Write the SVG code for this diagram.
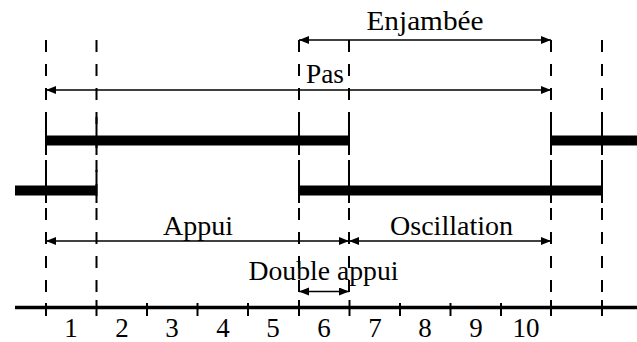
<svg xmlns="http://www.w3.org/2000/svg" width="637" height="342" viewBox="0 0 637 342">
  <style>
    .lbl { font-family: "Liberation Serif", "Times New Roman", serif; font-size: 27px; fill: #000; text-anchor: middle; }
    .dash { stroke: #000; stroke-width: 2; stroke-dasharray: 12 12; fill: none; }
    .solid { stroke: #000; stroke-width: 2; fill: none; }
    .bar { fill: #000; }
    .arrow { stroke: #000; stroke-width: 1.5; fill: none; marker-start: url(#head); marker-end: url(#head); }
  </style>
  <defs>
    <marker id="head" markerUnits="userSpaceOnUse" markerWidth="11" markerHeight="9" refX="10" refY="4" orient="auto-start-reverse">
      <path d="M0,0 L10,4 L0,8 Z" fill="#000"/>
    </marker>
  </defs>
  <rect width="637" height="342" fill="#fff"/>

  <!-- vertical phase boundaries -->
  <g id="guides">
    <g id="guide-46">
      <line class="dash" x1="46" y1="40" x2="46" y2="300"/>
      <line class="solid" x1="46" y1="117" x2="46" y2="155"/>
      <line class="solid" x1="46" y1="170" x2="46" y2="203"/>
    </g>
    <g id="guide-96">
      <line class="dash" x1="96.5" y1="40" x2="96.5" y2="300"/>
      <line class="solid" x1="96.5" y1="117" x2="96.5" y2="155"/>
      <line class="solid" x1="96.5" y1="170" x2="96.5" y2="203"/>
    </g>
    <g id="guide-299">
      <line class="dash" x1="299" y1="40" x2="299" y2="300"/>
      <line class="solid" x1="299" y1="117" x2="299" y2="155"/>
      <line class="solid" x1="299" y1="170" x2="299" y2="203"/>
    </g>
    <g id="guide-349">
      <line class="dash" x1="349" y1="40" x2="349" y2="300"/>
      <line class="solid" x1="349" y1="117" x2="349" y2="155"/>
      <line class="solid" x1="349" y1="170" x2="349" y2="203"/>
    </g>
    <g id="guide-551">
      <line class="dash" x1="551" y1="40" x2="551" y2="300"/>
      <line class="solid" x1="551" y1="117" x2="551" y2="155"/>
      <line class="solid" x1="551" y1="170" x2="551" y2="203"/>
    </g>
    <g id="guide-602">
      <line class="dash" x1="602" y1="40" x2="602" y2="300"/>
      <line class="solid" x1="602" y1="117" x2="602" y2="155"/>
      <line class="solid" x1="602" y1="170" x2="602" y2="203"/>
    </g>
  </g>

  <!-- foot contact bars -->
  <g id="bars">
    <rect id="bar-top-1" class="bar" x="46" y="135.5" width="303" height="10"/>
    <rect id="bar-top-2" class="bar" x="551" y="135.5" width="86" height="10"/>
    <rect id="bar-bottom-1" class="bar" x="15" y="185.5" width="81.5" height="10"/>
    <rect id="bar-bottom-2" class="bar" x="299" y="185.5" width="303" height="10"/>
  </g>

  <!-- time axis -->
  <g id="axis">
    <line x1="15" y1="307.5" x2="637" y2="307.5" stroke="#000" stroke-width="3.5"/>
    <g class="solid">
      <line x1="46" y1="303" x2="46" y2="316"/>
      <line x1="96.5" y1="300" x2="96.5" y2="316"/>
      <line x1="147" y1="303" x2="147" y2="316"/>
      <line x1="197.5" y1="303" x2="197.5" y2="316"/>
      <line x1="248" y1="303" x2="248" y2="316"/>
      <line x1="299" y1="300" x2="299" y2="316"/>
      <line x1="349.5" y1="300" x2="349.5" y2="316"/>
      <line x1="400" y1="303" x2="400" y2="316"/>
      <line x1="450.5" y1="303" x2="450.5" y2="316"/>
      <line x1="501" y1="303" x2="501" y2="316"/>
      <line x1="551" y1="300" x2="551" y2="316"/>
      <line x1="602" y1="300" x2="602" y2="316"/>
    </g>
    <g class="lbl">
      <text x="71" y="336.5">1</text>
      <text x="122" y="336.5">2</text>
      <text x="172" y="336.5">3</text>
      <text x="223" y="336.5">4</text>
      <text x="273" y="336.5">5</text>
      <text x="324" y="336.5">6</text>
      <text x="375" y="336.5">7</text>
      <text x="425" y="336.5">8</text>
      <text x="476" y="336.5">9</text>
      <text x="526" y="336.5">10</text>
    </g>
  </g>

  <!-- dimension arrows -->
  <g id="connectors">
    <line id="enjambee-arrow" class="arrow" x1="299" y1="40" x2="551" y2="40"/>
    <line id="pas-arrow" class="arrow" x1="46" y1="90" x2="551" y2="90"/>
    <line id="appui-arrow" class="arrow" x1="46" y1="241" x2="349" y2="241"/>
    <line id="oscillation-arrow" class="arrow" x1="349" y1="241" x2="551" y2="241"/>
    <line id="double-appui-arrow" class="arrow" x1="299" y1="291.5" x2="349" y2="291.5"/>
  </g>

  <g id="label-enjambee"><text class="lbl" x="425" y="30" textLength="117" lengthAdjust="spacingAndGlyphs">Enjambée</text></g>
  <g id="label-pas"><text class="lbl" x="325" y="83" textLength="38" lengthAdjust="spacingAndGlyphs">Pas</text></g>
  <g id="label-appui"><text class="lbl" x="198" y="234.5" textLength="70" lengthAdjust="spacingAndGlyphs">Appui</text></g>
  <g id="label-oscillation"><text class="lbl" x="451.5" y="234.5" textLength="123" lengthAdjust="spacingAndGlyphs">Oscillation</text></g>
  <g id="label-double-appui"><text class="lbl" x="323.5" y="280" textLength="150" lengthAdjust="spacingAndGlyphs">Double appui</text></g>
</svg>
